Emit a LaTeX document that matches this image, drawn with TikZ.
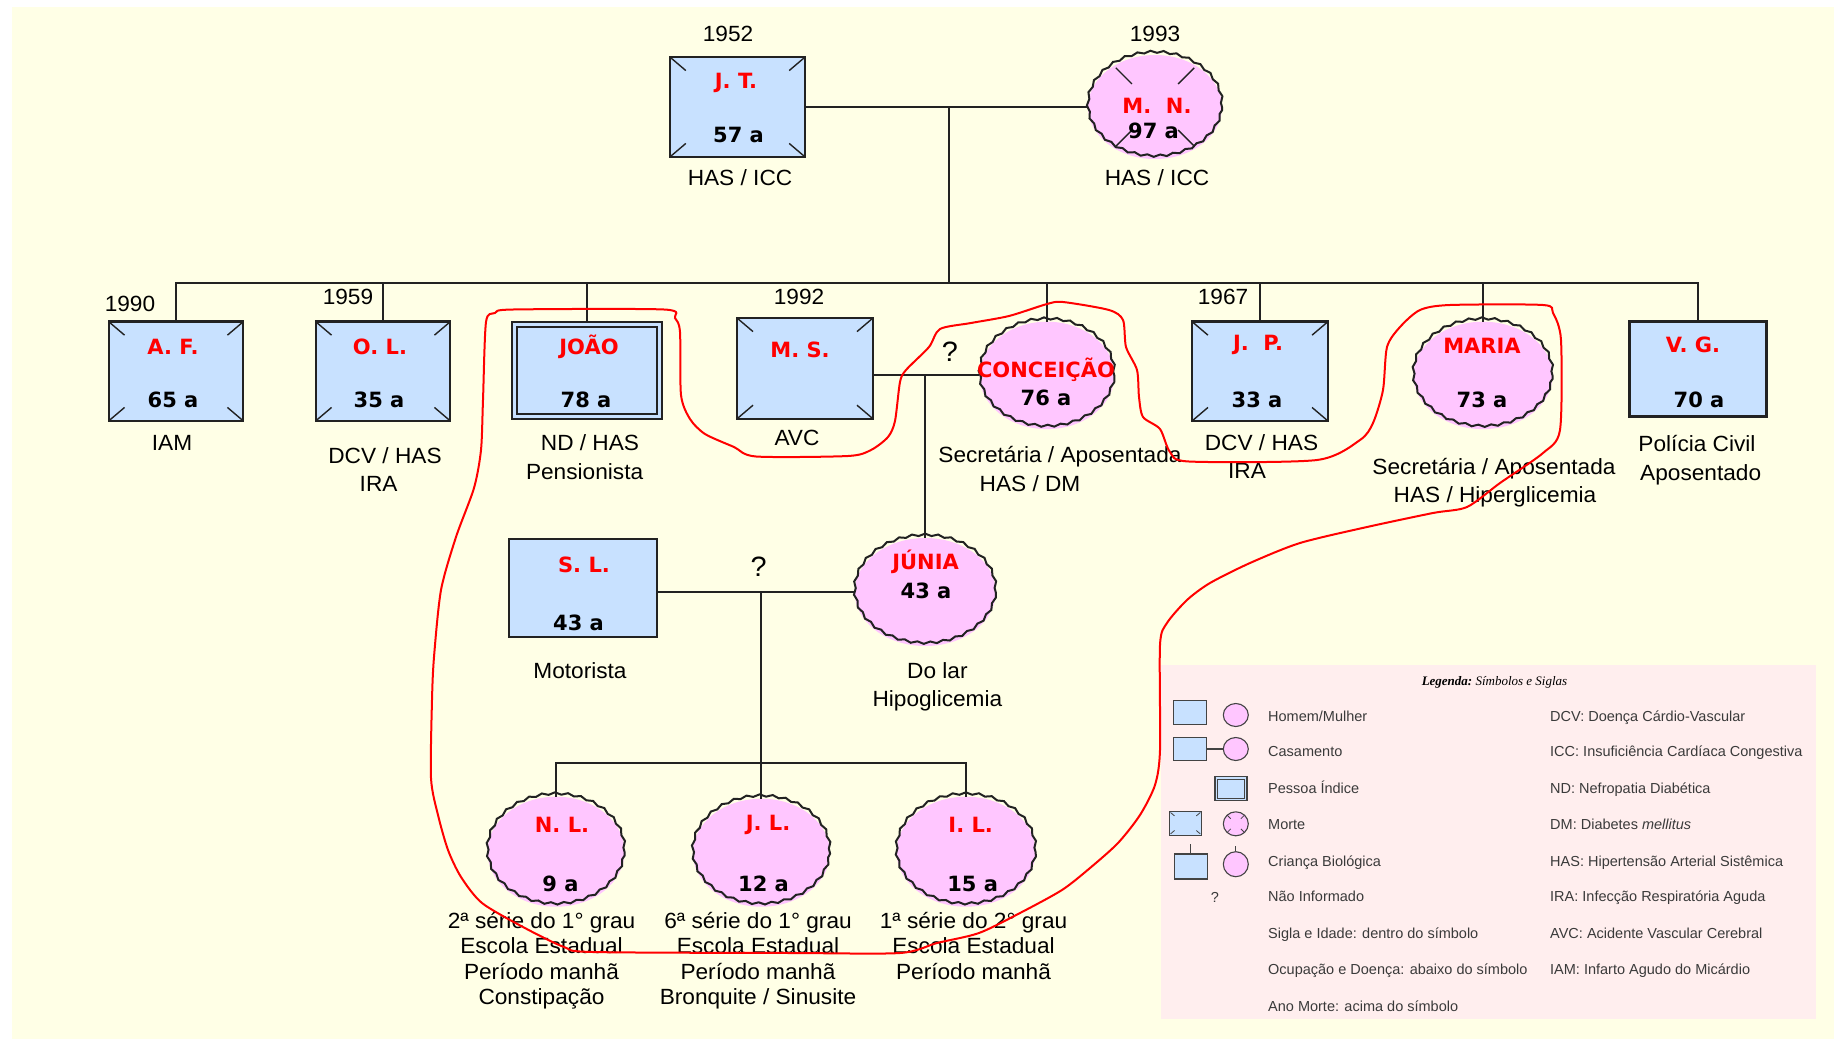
\documentclass[tikz,border=0pt]{standalone}
\usepackage{fontspec}
\setmainfont{Liberation Sans}[FakeStretch=1.03]
\newfontfamily\lblfont{DejaVu Sans}
\newfontfamily\legfont{Liberation Sans}[FakeStretch=1.0]
\newfontfamily\titfont{Liberation Serif}
\usetikzlibrary{shapes.geometric,decorations.pathmorphing,calc}
\definecolor{bgyel}{HTML}{FFFFE6}
\definecolor{boxblue}{HTML}{C8E1FF}
\definecolor{fempink}{HTML}{FFC6FF}
\definecolor{legpink}{HTML}{FFEEEE}
\definecolor{linec}{HTML}{222222}
\definecolor{lgtext}{HTML}{3A3A3A}
\newcommand\DeadSq[2]{%
  \draw[dmark] ([shift={(2pt,-2pt)}]#1.north west) -- ++(#2pt,-0.85*#2pt);
  \draw[dmark] ([shift={(-2pt,-2pt)}]#1.north east) -- ++(-#2pt,-0.85*#2pt);
  \draw[dmark] ([shift={(2pt,2pt)}]#1.south west) -- ++(#2pt,0.85*#2pt);
  \draw[dmark] ([shift={(-2pt,2pt)}]#1.south east) -- ++(-#2pt,0.85*#2pt);}
\newcommand\DeadCi[1]{%
  \foreach \a in {45,135,225,315}{\draw[dmark] ($(#1.center)!0.95!(#1.\a)$) -- ($(#1.center)!0.56!(#1.\a)$);}}
\newcommand\FemBorder[3]{\draw[wavy] (#1.center) ellipse [x radius=#2pt, y radius=#3pt];}
\begin{document}
\begin{tikzpicture}[x=1pt,y=-1pt,
  male/.style={rectangle, draw=linec, fill=boxblue, line width=2.4pt, inner sep=0pt},
  fem/.style={ellipse, fill=fempink, inner sep=0pt},
  wavy/.style={draw=linec, line width=2pt, decorate, decoration={snake, amplitude=1.1pt, segment length=13pt}},
  conn/.style={draw=linec, line width=2pt},
  dmark/.style={draw=linec, line width=1.4pt},
  nm/.style={font=\lblfont\bfseries\fontsize{21}{24}\selectfont, text=red, inner sep=0pt},
  ag/.style={font=\lblfont\bfseries\fontsize{21}{24}\selectfont, text=black, inner sep=0pt},
  txt/.style={font=\fontsize{22}{26}\selectfont, anchor=base, inner sep=0pt, text=black},
  qm/.style={font=\fontsize{28}{30}\selectfont, anchor=base, inner sep=0pt, text=black},
  lg/.style={font=\legfont\fontsize{14.5}{16}\selectfont, text=lgtext, anchor=base west, inner sep=0pt},
  lmale/.style={rectangle, draw=linec!85, fill=boxblue, line width=1.1pt, inner sep=0pt},
  lfem/.style={ellipse, draw=linec!85, fill=fempink, line width=1.1pt, inner sep=0pt},
  redloop/.style={draw=red, line width=2pt}]
\useasboundingbox (0,0) rectangle (1834,1039);
\fill[white] (0,0) rectangle (1834,1039);
\fill[bgyel] (12,7) rectangle (1834,1039);
\fill[legpink] (1161,665) rectangle (1816,1019);

% ---------- generation I ----------
\node[male, minimum width=135pt, minimum height=100pt] (jt) at (737.5,107) {};
\node[fem, minimum width=134pt, minimum height=104pt] (mn) at (1155,107) {};
\FemBorder{mn}{67}{52}
\DeadSq{jt}{15}
\DeadCi{mn}
\coordinate (m1) at (948.6,107);
\coordinate (sibc) at (948.6,283);
\draw[conn] (jt.east) -- (mn.west);
\draw[conn] (m1) -- (sibc);

% ---------- generation II ----------
\node[male, minimum width=134.5pt, minimum height=99.4pt] (af) at (176,371.3) {};
\node[male, minimum width=134.5pt, minimum height=99.4pt] (ol) at (383,371.3) {};
\node[male, minimum width=150pt, minimum height=97pt] (joao) at (587,370.2) {};
\draw[line width=2pt, draw=linec] ([shift={(6pt,-6pt)}]joao.north west) rectangle ([shift={(-6pt,6pt)}]joao.south east);
\node[male, minimum width=135.6pt, minimum height=100.7pt] (ms) at (805,368.4) {};
\node[fem, minimum width=134.7pt, minimum height=107.4pt] (conc) at (1047,375.4) {};
\FemBorder{conc}{67.3}{53.7}
\node[male, minimum width=135.7pt, minimum height=99.4pt] (jp) at (1260,371.3) {};
\node[fem, minimum width=139pt, minimum height=107.4pt] (maria) at (1483,375.4) {};
\FemBorder{maria}{69.5}{53.7}
\node[male, minimum width=137pt, minimum height=95pt] (vg) at (1698,369) {};
\DeadSq{af}{15}
\DeadSq{ol}{15}
\DeadSq{ms}{15}
\DeadSq{jp}{15}
\draw[conn] (af.north) |- (sibc) -| (vg.north);
\draw[conn] (ol.north) |- (sibc);
\draw[conn] (joao.north) |- (sibc);
\draw[conn] (conc.north) |- (sibc);
\draw[conn] (jp.north) |- (sibc);
\draw[conn] (maria.north) |- (sibc);

% ---------- generation III ----------
\node[male, minimum width=148.5pt, minimum height=98pt] (sl) at (583,588) {};
\node[fem, minimum width=141pt, minimum height=108pt] (jun) at (925.2,592) {};
\FemBorder{jun}{70.5}{54}
\draw[conn] (ms.east |- conc.west) -- (conc.west);
\coordinate (m2) at (925.2,375.4);
\draw[conn] (m2) -- (jun.north);
\draw[conn] (sl.east |- jun.west) -- (jun.west);
\coordinate (m3) at (761.4,592);
\coordinate (kidc) at (761.4,762.6);
\draw[conn] (m3) -- (kidc);

% ---------- generation IV ----------
\node[fem, minimum width=137pt, minimum height=110pt] (nl) at (556,851.7) {};
\FemBorder{nl}{68.5}{55}
\node[fem, minimum width=137pt, minimum height=108pt] (jl) at (761.4,852.7) {};
\FemBorder{jl}{68.5}{54}
\node[fem, minimum width=139pt, minimum height=110pt] (il) at (966,851.7) {};
\FemBorder{il}{69.5}{55}
\draw[conn] (nl.north) |- (kidc) -| (il.north);
\draw[conn] (kidc) -- (jl.north);

% ---------- names and ages ----------
\node[nm] (n1) at (736,82.5) {J. T.};
\node[ag] (a1) at (738.5,135) {57 a};
\node[nm] (n2) at (1157,105.5) {M.\ \ N.};
\node[ag] (a2) at (1153.5,131) {97 a};
\node[nm] (n3) at (173,347) {A. F.};
\node[ag] (a3) at (173,400) {65 a};
\node[nm] (n4) at (380,347) {O. L.};
\node[ag] (a4) at (379,400) {35 a};
\node[nm] (n5) at (589,347) {JOÃO};
\node[ag] (a5) at (586,400) {78 a};
\node[nm] (n6) at (800,350) {M. S.};
\node[nm] (n7) at (1046,370) {CONCEIÇÃO};
\node[ag] (a7) at (1046,397.5) {76 a};
\node[nm] (n8) at (1258,345) {J.\ \ P.};
\node[ag] (a8) at (1257,400) {33 a};
\node[nm] (n9) at (1482,346) {MARIA};
\node[ag] (a9) at (1482,400) {73 a};
\node[nm] (n10) at (1693,345) {V. G.};
\node[ag] (a10) at (1699,399.5) {70 a};
\node[nm] (n11) at (584,565) {S. L.};
\node[ag] (a11) at (578.5,622.5) {43 a};
\node[nm] (n12) at (925.6,561.7) {JÚNIA};
\node[ag] (a12) at (926,591) {43 a};
\node[nm] (n13) at (562,825) {N. L.};
\node[ag] (a13) at (560.4,884) {9 a};
\node[nm] (n14) at (768,825) {J. L.};
\node[ag] (a14) at (763.5,884) {12 a};
\node[nm] (n15) at (970.7,825) {I. L.};
\node[ag] (a15) at (972.6,884) {15 a};

% ---------- years ----------
\node[txt] (y1) at (728,41.3) {1952};
\node[txt] (y2) at (1155,41.3) {1993};
\node[txt] (y3) at (130,311) {1990};
\node[txt] (y4) at (348,304.7) {1959};
\node[txt] (y5) at (799,304.7) {1992};
\node[txt] (y6) at (1223,304.7) {1967};
\node[qm] (q1) at (950,361) {?};
\node[qm] (q2) at (758.6,576.7) {?};

% ---------- descriptions ----------
\node[txt] (d1) at (740,185.5) {HAS / ICC};
\node[txt] (d2) at (1157,185.5) {HAS / ICC};
\node[txt] (d3) at (172,450.5) {IAM};
\node[txt] (d4) at (385,463) {DCV / HAS};
\node[txt] (d5) at (378.6,491) {IRA};
\node[txt] (d6) at (590,450.5) {ND / HAS};
\node[txt] (d7) at (584.6,479) {Pensionista};
\node[txt] (d8) at (797,445) {AVC};
\node[txt] (d9) at (1060,462) {Secretária / Aposentada};
\node[txt] (d10) at (1030,491.5) {HAS / DM};
\node[txt] (d11) at (1261.5,450) {DCV / HAS};
\node[txt] (d12) at (1247,478) {IRA};
\node[txt] (d13) at (1494,474) {Secretária / Aposentada};
\node[txt] (d14) at (1495,502) {HAS / Hiperglicemia};
\node[txt] (d15) at (1697,451.7) {Polícia Civil};
\node[txt] (d16) at (1700.7,480) {Aposentado};
\node[txt] (d17) at (580,678.3) {Motorista};
\node[txt] (d18) at (937.4,678.3) {Do lar};
\node[txt] (d19) at (937.4,706) {Hipoglicemia};
\node[txt] (e1) at (541.5,928) {2ª série do 1° grau};
\node[txt] (e2) at (541.5,953.6) {Escola Estadual};
\node[txt] (e3) at (541.5,979.2) {Período manhã};
\node[txt] (e4) at (541.5,1004.8) {Constipação};
\node[txt] (f1) at (758,928) {6ª série do 1° grau};
\node[txt] (f2) at (758,953.6) {Escola Estadual};
\node[txt] (f3) at (758,979.2) {Período manhã};
\node[txt] (f4) at (758,1004.8) {Bronquite / Sinusite};
\node[txt] (g1) at (973.5,928) {1ª série do 2° grau};
\node[txt] (g2) at (973.5,953.6) {Escola Estadual};
\node[txt] (g3) at (973.5,979.2) {Período manhã};

% ---------- legend ----------
\node[font=\titfont\fontsize{13}{15}\selectfont, anchor=base, inner sep=0pt] (ltit) at (1494.5,685) {\textbf{\textit{Legenda:}}\ \textit{Símbolos e Siglas}};
\node[lmale, minimum width=33pt, minimum height=23.5pt] (lsq1) at (1189.7,712.5) {};
\node[lfem, minimum width=25pt, minimum height=23pt] (lci1) at (1235.8,715) {};
\node[lmale, minimum width=33pt, minimum height=23.5pt] (lsq2) at (1189.7,749) {};
\node[lfem, minimum width=25pt, minimum height=23pt] (lci2) at (1235.8,749) {};
\draw[draw=linec!85, line width=1.1pt] (lsq2.east) -- (lci2.west);
\node[lmale, minimum width=32pt, minimum height=24pt] (lidx) at (1231,788.7) {};
\draw[draw=linec!85, line width=1.1pt] ([shift={(3pt,-3pt)}]lidx.north west) rectangle ([shift={(-3pt,3pt)}]lidx.south east);
\node[lmale, minimum width=32.7pt, minimum height=24.3pt] (lsq4) at (1185.4,823.2) {};
\node[lfem, minimum width=25pt, minimum height=24pt] (lci4) at (1235.8,823.8) {};
\begin{scope}[dmark/.style={draw=linec!85, line width=0.8pt}]
\DeadSq{lsq4}{4}
\DeadCi{lci4}
\end{scope}
\node[lmale, minimum width=33pt, minimum height=25pt] (lsq5) at (1190.8,866.5) {};
\node[lfem, minimum width=25pt, minimum height=25pt] (lci5) at (1235.8,864.2) {};
\coordinate (k1) at (1190.8,844.3);
\coordinate (k2) at (1235.8,845.7);
\draw[draw=linec!85, line width=1.1pt] (lsq5.north) -- (k1);
\draw[draw=linec!85, line width=1.1pt] (lci5.north) -- (k2);
\node[lg, anchor=base] (lq) at (1215,902) {?};
\node[lg] (l1) at (1268,721) {Homem/Mulher};
\node[lg] (l2) at (1268,756.7) {Casamento};
\node[lg] (l3) at (1268,793.3) {Pessoa Índice};
\node[lg] (l4) at (1268,829) {Morte};
\node[lg] (l5) at (1268,866) {Criança Biológica};
\node[lg] (l6) at (1268,901.7) {Não Informado};
\node[lg] (l7) at (1268,938.3) {Sigla e Idade: dentro do símbolo};
\node[lg] (l8) at (1268,974.3) {Ocupação e Doença: abaixo do símbolo};
\node[lg] (l9) at (1268,1011) {Ano Morte: acima do símbolo};
\node[lg] (r1) at (1550,721) {DCV: Doença Cárdio-Vascular};
\node[lg] (r2) at (1550,756.7) {ICC: Insuficiência Cardíaca Congestiva};
\node[lg] (r3) at (1550,793.3) {ND: Nefropatia Diabética};
\node[lg] (r4) at (1550,829) {DM: Diabetes \textit{mellitus}};
\node[lg] (r5) at (1550,866) {HAS: Hipertensão Arterial Sistêmica};
\node[lg] (r6) at (1550,901.7) {IRA: Infecção Respiratória Aguda};
\node[lg] (r7) at (1550,938.3) {AVC: Acidente Vascular Cerebral};
\node[lg] (r8) at (1550,974.3) {IAM: Infarto Agudo do Micárdio};

% ---------- red loop ----------
\draw[redloop] plot[smooth cycle, tension=0.45] coordinates {
(486,322) (495,313) (513,309.5) (664,309.5) (675,318) (680,332) (681,395) (690,419)
(705,434) (734,447) (756,456.5) (848,456) (871,450) (888,437) (895,421) (900,382)
(906,370) (929,347) (940,329) (971,323) (1009,316) (1047,304) (1063,302) (1109,310)
(1123,320) (1126,347) (1137,370) (1139,397) (1143,417) (1160,429) (1170,452) (1189,461.5)
(1317,460) (1360,440) (1373,423) (1383,390) (1387,347) (1400,327) (1420,310) (1450,305)
(1543,305) (1553,313) (1561,340) (1560,430) (1543,453) (1500,483) (1467,507) (1433,513)
(1367,527) (1300,543) (1250,563) (1210,583) (1187,600) (1167,623) (1160,645) (1160,750)
(1155,785) (1140,815) (1118,843) (1090,868) (1062,890) (1020,913) (979,933) (937,943)
(900,953) (792,953) (593,952) (564,947) (523,927) (482,903) (461,877) (448,850)
(438,815) (431,778) (432,700) (434,657) (441,590) (456,537) (474,488) (481,450) (483,400)};
\end{tikzpicture}
\end{document}
